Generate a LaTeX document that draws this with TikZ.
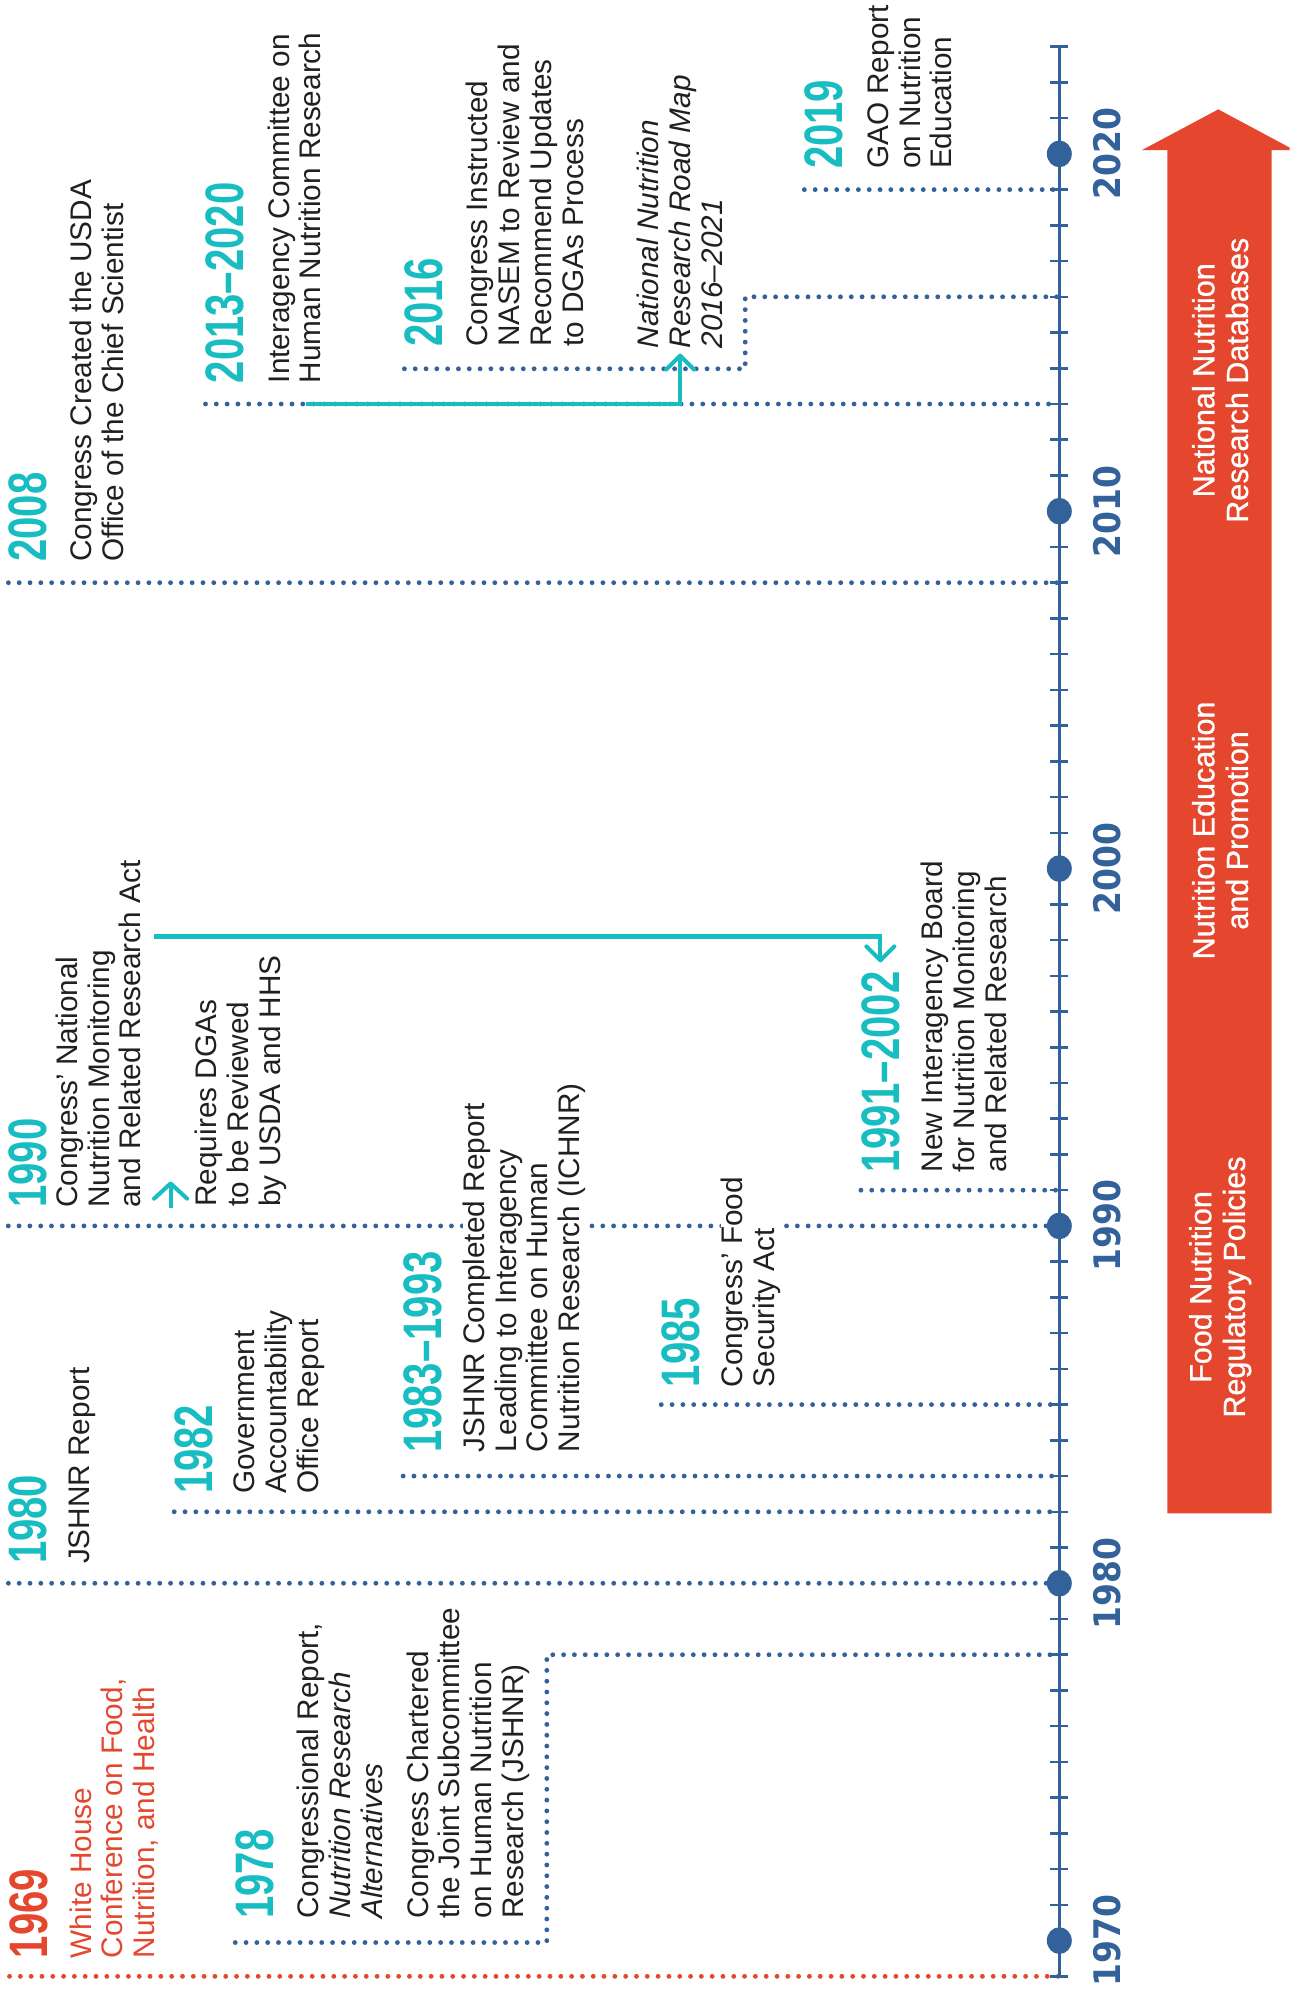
\documentclass[tikz,border=0pt]{standalone}
\usepackage{fontspec}
\setmainfont{Liberation Sans}
\newfontfamily\yearfont[FakeStretch=0.74]{Liberation Sans}
\newfontfamily\decadefont[FakeStretch=0.9]{DejaVu Sans}
\newfontfamily\bandfont[FakeBold=1]{Liberation Sans}
\usetikzlibrary{arrows.meta,backgrounds,positioning}

\definecolor{tlteal}{RGB}{24,189,193}
\definecolor{tlblue}{RGB}{51,97,153}
\definecolor{tlred}{RGB}{228,71,46}
\definecolor{tlink}{RGB}{35,31,32}

\begin{document}
\begin{tikzpicture}[x=1pt,y=-1pt,
  yr/.style={rotate=90,anchor=north west,inner sep=0pt,text=tlteal,
    font=\yearfont\bfseries\fontsize{42.6}{44}\selectfont},
  txt/.style={rotate=90,anchor=north west,inner sep=0pt,align=left,text=tlink,
    font=\fontsize{23.4}{25}\selectfont},
  mask/.style={fill=white},
  decade/.style={rotate=90,inner sep=0pt,text=tlblue,
    font=\decadefont\bfseries\fontsize{28.8}{30}\selectfont},
  band/.style={rotate=90,inner sep=0pt,align=center,text=white,
    font=\bandfont\fontsize{24}{26.5}\selectfont},
  leader/.style={tlblue,line width=3.8pt,line cap=round,dash pattern=on 0pt off 8.5pt},
  axisline/.style={tlblue,line width=2pt},
  link/.style={tlteal,line width=3.2pt,-{Straight Barb[length=11pt,width=22pt,round]}}]
  \useasboundingbox (0,0) rectangle (1014,1568);

  % time axis, one tick a year
  \foreach \y in {1969,...,2023} {
    \coordinate (a\y) at (833,{1526-(\y-1970)*28.1});
    \draw[axisline] (a\y) ++(-7,0) -- ++(14,0);
  }
  \draw[axisline] (a1969) -- (a2023);
  \foreach \y in {1970,1980,...,2020} {
    \fill[tlblue] (a\y) ellipse [x radius=9.8pt, y radius=10.5pt];
    \node[decade] (d\y) at ([xshift=38pt]a\y) {\y};
  }

  % red band
  \fill[tlred] (918,1190) -- (918,118) -- (898,118) -- (958,86) -- (1014,116)
    -- (1014,118) -- (1000,118) -- (1000,1190) -- cycle;
  \node[band] (band1) at (959.5,1012) {Food Nutrition\\Regulatory Policies};
  \node[band] (band2) at (959.5,653) {Nutrition Education\\and Promotion};
  \node[band] (band3) at (959.5,299) {National Nutrition\\Research Databases};

  % events
  \node[yr,text=tlred] (y69) at (7.5,1540) {1969};
  \node[txt,text=tlred] (t69) at ([xshift=16.5pt]y69.south west)
    {White House\\Conference on Food,\\Nutrition, and Health};

  \node[yr] (y78) at (185,1509) {1978};
  \node[txt] (t78) at ([xshift=18pt]y78.south west)
    {Congressional Report,\\\textit{Nutrition Research}\\\textit{Alternatives}\\[11pt]
     Congress Chartered\\the Joint Subcommittee\\on Human Nutrition\\Research (JSHNR)};

  \node[yr] (y80) at (6.6,1230) {1980};
  \node[txt] (t80) at ([xshift=16.5pt]y80.south west) {JSHNR Report};

  \node[yr] (y82) at (137,1175) {1982};
  \node[txt] (t82) at ([xshift=16pt]y82.south west)
    {Government\\Accountability\\Office Report};

  \node[yr] (y83) at (317,1142) {1983–1993};
  \node[txt,mask] (t83) at ([xshift=16pt]y83.south west)
    {JSHNR Completed Report\\Leading to Interagency\\Committee on Human\\Nutrition Research (ICHNR)};

  \node[yr] (y85) at (520,1091) {1985};
  \node[txt,mask] (t85) at ([xshift=16pt]y85.south west)
    {Congress’ Food\\Security Act};

  \node[yr] (y90) at (6.5,950) {1990};
  \node[txt] (t90a) at ([xshift=6.5pt]y90.south west)
    {Congress’ National\\Nutrition Monitoring\\and Related Research Act};
  \node[txt] (t90b) at (153.4,949) {Requires DGAs\\to be Reviewed\\by USDA and HHS};

  \node[yr] (y91) at (677,922) {1991–2002};
  \node[txt] (t91) at ([xshift=16.5pt]y91.south west)
    {New Interagency Board\\for Nutrition Monitoring\\and Related Research};

  \node[yr] (y08) at (6.6,442) {2008};
  \node[txt] (t08) at ([xshift=18pt]y08.south west)
    {Congress Created the USDA\\Office of the Chief Scientist};

  \node[yr] (y13) at (161.6,301.5) {2013–2020};
  \node[txt] (t13) at ([xshift=18pt]y13.south west)
    {Interagency Committee on\\Human Nutrition Research};

  \node[yr] (y16) at (318,273) {2016};
  \node[txt] (t16) at ([xshift=18pt]y16.south west)
    {Congress Instructed\\NASEM to Review and\\Recommend Updates\\to DGAs Process};
  \node[txt,font=\fontsize{23.4}{25}\selectfont\itshape] (rm) at (501,274)
    {National Nutrition\\Research Road Map\\2016–2021};

  \node[yr] (y19) at (632.5,133) {2019};
  \node[txt] (t19) at ([xshift=19pt]y19.south west)
    {GAO Report\\on Nutrition\\Education};

  % teal links
  \draw[link,-{Straight Barb[length=12pt,width=26pt,round]}]
    (t90a.south west) ++(23,0) -- ++(0,-21);
  \draw[link,shorten >=7pt] (t90a.south east) ++(10,60) -| (y91.east);
  \draw[link,shorten >=4pt] (t13.south west |- a2013) ++(-12,0) -| (rm.west);

  % dotted leaders to the axis
  \begin{scope}[on background layer]
    \draw[leader,tlred] (y69.north west |- a1969) -- (a1969);
    \coordinate (k78) at (430,1527.5);
    \draw[leader] (y78.north west |- k78) -- (k78) -- (k78 |- a1978) -- (a1978);
    \coordinate (k16) at (586,290);
    \draw[leader] (y16.north west |- k16) -- (k16) -- (k16 |- a2016) -- (a2016);
    \foreach \n/\y in {y80/1980,y82/1982,y83/1983,y85/1985,y90/1990,
                       y91/1991,y08/2008,y13/2013,y19/2019}
      \draw[leader] (\n.north west |- a\y) -- (a\y);
  \end{scope}
\end{tikzpicture}
\end{document}
